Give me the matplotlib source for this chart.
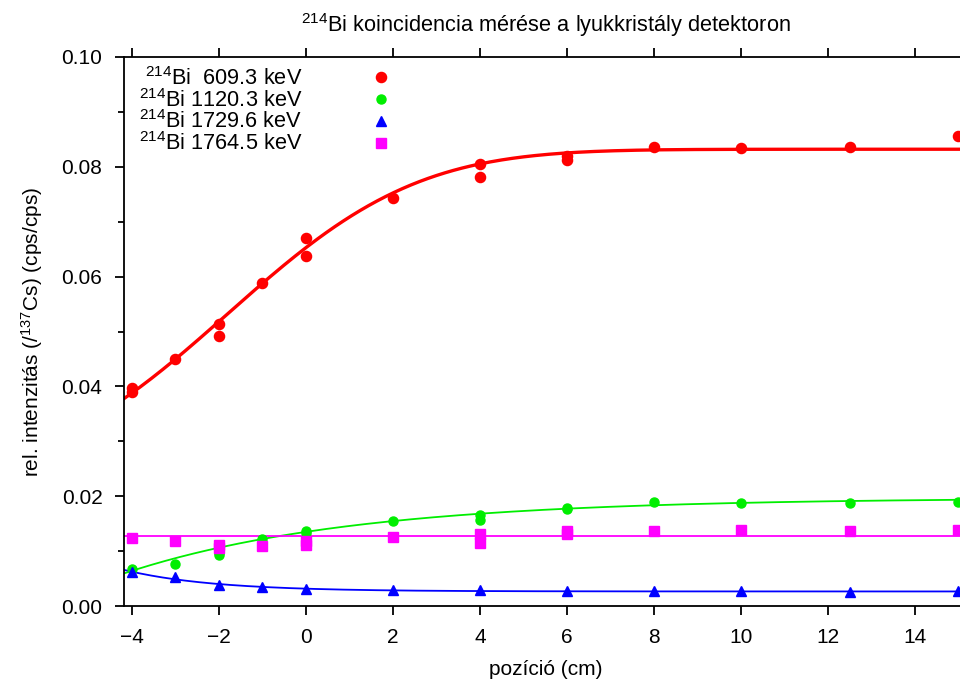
import math
import numpy as np
import matplotlib
matplotlib.use("Agg")
from matplotlib import pyplot as plt
from matplotlib.ticker import MultipleLocator

plt.rcParams["font.family"] = ["Liberation Sans", "DejaVu Sans"]
plt.rcParams["mathtext.fontset"] = "custom"
plt.rcParams["mathtext.rm"] = "Liberation Sans"
plt.rcParams["mathtext.default"] = "regular"

# measured points (position in cm, rel. intensity)
x609 = [-4, -4, -3, -2, -2, -1, 0, 0, 2, 4, 4, 6, 6, 8, 10, 12.5, 15]
y609 = [0.0397, 0.0389, 0.0450, 0.0514, 0.0492, 0.0588, 0.0670, 0.0638,
        0.0743, 0.0805, 0.0781, 0.0819, 0.0813, 0.0836, 0.0835, 0.0836, 0.0856]

x1120 = [-4, -3, -2, -2, -1, 0, 0, 2, 4, 4, 6, 6, 8, 10, 12.5, 15]
y1120 = [0.0068, 0.0076, 0.0093, 0.0097, 0.0122, 0.0137, 0.0133, 0.0155,
         0.0166, 0.0157, 0.0178, 0.0176, 0.0190, 0.0188, 0.0187, 0.0190]

x1729 = [-4, -3, -2, -1, 0, 2, 4, 6, 8, 10, 12.5, 15]
y1729 = [0.0062, 0.0052, 0.0038, 0.0034, 0.0031, 0.0030, 0.0029, 0.0028,
         0.0027, 0.0028, 0.0025, 0.0027]

x1764 = [-4, -3, -2, -2, -1, 0, 0, 2, 4, 4, 6, 6, 8, 10, 12.5, 15]
y1764 = [0.0123, 0.0118, 0.0112, 0.0106, 0.0110, 0.0119, 0.0111, 0.0126,
         0.0132, 0.0115, 0.0137, 0.0131, 0.0137, 0.0138, 0.0136, 0.0138]

# fit parameters
p609 = (0.0532, 0.0300, -1.8, 4.83)     # m + h*erf((x-x0)/w)
p1120 = (0.0197, 0.0133, 5.24)          # a - b*exp(-(x+4)/t)
p1729 = (0.00265, 0.0036, 2.04)         # c + d*exp(-(x+4)/t)
c1764 = 0.0128

labels = ["$^{214}$Bi  609.3 keV", "$^{214}$Bi 1120.3 keV",
          "$^{214}$Bi 1729.6 keV", "$^{214}$Bi 1764.5 keV"]

fs = 15
fs_big = 15.7

xf = np.linspace(-4.2, 15.2, 300)
f609 = p609[0] + p609[1] * np.array([math.erf((v - p609[2]) / p609[3]) for v in xf])
f1120 = p1120[0] - p1120[1] * np.exp(-(xf + 4) / p1120[2])
f1729 = p1729[0] + p1729[1] * np.exp(-(xf + 4) / p1729[2])
f1764 = np.full_like(xf, c1764)

fig = plt.figure(figsize=(9.6, 6.83), dpi=100)
ax = fig.add_axes([124 / 960, 77 / 683, 843 / 960, 549 / 683])

ax.plot(xf, f609, color="#ff0000", lw=2.4)
ax.plot(xf, f1120, color="#00ee00", lw=1.3)
ax.plot(xf, f1729, color="#0000ff", lw=1.3)
ax.plot(xf, f1764, color="#ff00ff", lw=1.3)

ax.plot(x609, y609, "o", color="#ff0000", ms=7.3, ls="none", label=labels[0])
ax.plot(x1120, y1120, "o", color="#00ee00", ms=6.5, ls="none", label=labels[1])
ax.plot(x1729, y1729, "^", color="#0000ff", ms=6.5, ls="none", label=labels[2])
ax.plot(x1764, y1764, "s", color="#ff00ff", ms=6.5, ls="none", label=labels[3])

ax.set_xlim(-4.18, 15.2)
ax.set_ylim(0, 0.1)
ax.xaxis.set_major_locator(MultipleLocator(2))
ax.yaxis.set_major_locator(MultipleLocator(0.02))
ax.yaxis.set_minor_locator(MultipleLocator(0.01))
ax.yaxis.set_major_formatter(matplotlib.ticker.FormatStrFormatter("%.2f"))
ax.tick_params(which="both", direction="out", labelsize=fs, width=1.3,
               top=True, bottom=True, left=True, right=False)
ax.tick_params(which="major", length=6.5)
ax.tick_params(which="minor", length=4.5)
ax.tick_params(axis="y", pad=9)
ax.tick_params(axis="x", pad=9)
for s in ax.spines.values():
    s.set_linewidth(1.3)

ax.set_xlabel("pozíció (cm)", fontsize=fs, labelpad=10)
ax.set_ylabel("rel. intenzitás (/$^{137}$Cs) (cps/cps)", fontsize=fs, labelpad=12)
fig.text(546 / 960, 1 - 25 / 683, "$^{214}$Bi koincidencia mérése a lyukkristály detektoron",
         fontsize=fs_big, ha="center", va="center")

ax.legend(loc="upper left", bbox_to_anchor=(0.006, 1.0), frameon=False,
          markerfirst=False, fontsize=fs_big, handletextpad=2.6,
          labelspacing=-0.05, borderaxespad=0.2, borderpad=0.25,
          handlelength=2.0)

fig.savefig("out.png", dpi=100)
